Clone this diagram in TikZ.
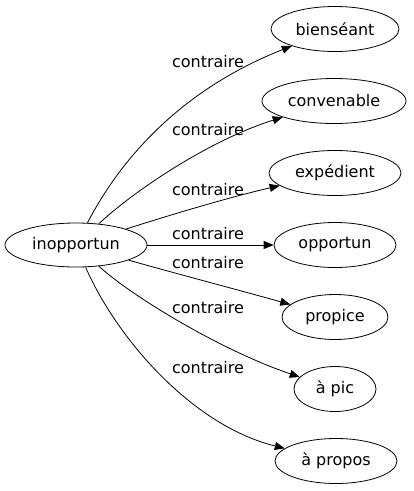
\documentclass[tikz,border=0pt]{standalone}
\usepackage{fontspec}
\setmainfont{DejaVu Sans}
\usetikzlibrary{shapes.geometric,arrows.meta}
\begin{document}
\begin{tikzpicture}[x=1pt,y=-1pt,
  term/.style={ellipse,draw,line width=0.8pt,inner sep=0pt,minimum height=45pt,font=\fontsize{16}{18}\selectfont},
  rel/.style={font=\fontsize{16}{18}\selectfont,inner sep=0pt},
  edge/.style={line width=0.8pt,-{Triangle[length=10pt,width=8pt]}}]
\useasboundingbox (0,0) rectangle (414,491);
\node[term,minimum width=142pt,minimum height=44pt] (in) at (76,245) {inopportun};
\node[term,minimum width=128pt] (b) at (335,29) {bienséant};
\node[term,minimum width=144pt] (c) at (334,101) {convenable};
\node[term,minimum width=132pt] (e) at (335,173) {expédient};
\node[term,minimum width=122pt] (o) at (335,245) {opportun};
\node[term,minimum width=106pt] (p) at (335,317) {propice};
\node[term,minimum width=82pt] (ap) at (335,389) {à pic};
\node[term,minimum width=122pt] (apr) at (336,461) {à propos};
\draw[edge] (in) .. controls (120,160) and (180,90) .. (b);
\draw[edge] (in) .. controls (135,190) and (210,140) .. (c);
\draw[edge] (in) .. controls (170,215) and (230,197) .. (e);
\draw[edge] (in) -- (o);
\draw[edge] (in) .. controls (170,272) and (235,289) .. (p);
\draw[edge] (in) .. controls (130,295) and (220,350) .. (ap);
\draw[edge] (in) .. controls (115,335) and (190,425) .. (apr);
\node[rel] (l1) at (208,62) {contraire};
\node[rel] (l2) at (208,130) {contraire};
\node[rel] (l3) at (208,190) {contraire};
\node[rel] (l4) at (208,234) {contraire};
\node[rel] (l5) at (208,263) {contraire};
\node[rel] (l6) at (208,308) {contraire};
\node[rel] (l7) at (208,368) {contraire};
\end{tikzpicture}
\end{document}
